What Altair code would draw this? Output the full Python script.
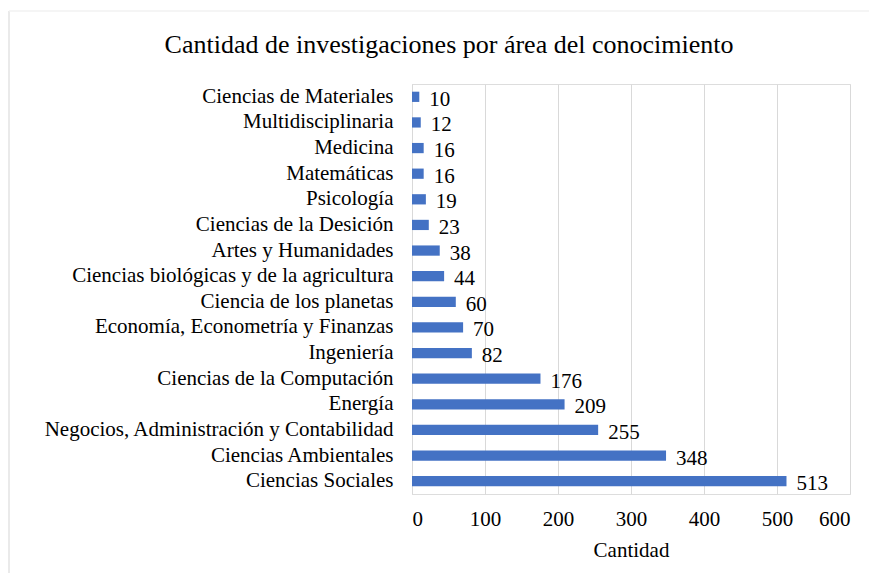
import altair as alt
import pandas as pd

areas = [
    "Ciencias de Materiales", "Multidisciplinaria", "Medicina", "Matemáticas",
    "Psicología", "Ciencias de la Desición", "Artes y Humanidades",
    "Ciencias biológicas y de la agricultura", "Ciencia de los planetas",
    "Economía, Econometría y Finanzas", "Ingeniería", "Ciencias de la Computación",
    "Energía", "Negocios, Administración y Contabilidad", "Ciencias Ambientales",
    "Ciencias Sociales",
]
cantidad = [10, 12, 16, 16, 19, 23, 38, 44, 60, 70, 82, 176, 209, 255, 348, 513]

df = pd.DataFrame({"area": areas, "cantidad": cantidad})

FONT = "Liberation Serif"
FS = 21

y = alt.Y("area:N", sort=areas, title=None,
          scale=alt.Scale(paddingInner=0.6, paddingOuter=0.3),
          axis=alt.Axis(labelFont=FONT, labelFontSize=FS, labelColor="#000000",
                        ticks=False, domainColor="#d9d9d9", labelPadding=19,
                        labelLimit=500))
x = alt.X("cantidad:Q", title="Cantidad",
          scale=alt.Scale(domain=[0, 600], nice=False),
          axis=alt.Axis(values=[0, 100, 200, 300, 400, 500, 600], labelFont=FONT,
                        labelFontSize=FS, labelColor="#000000", titleFont=FONT,
                        titleFontSize=FS, titleFontWeight="normal", titleColor="#000000",
                        domain=False, ticks=False, gridColor="#d9d9d9",
                        labelPadding=14, titlePadding=10))

bars = alt.Chart(df).mark_bar(color="#4472C4").encode(x=x, y=y)
labels = alt.Chart(df).mark_text(align="left", dx=10, dy=3, font=FONT, fontSize=FS,
                                 color="#000000").encode(
    x="cantidad:Q", y=alt.Y("area:N", sort=areas), text="cantidad:Q")

frame_df = pd.DataFrame({"k": [0]})
left_border = alt.Chart(frame_df).mark_rule(color="#e3e3e3", strokeWidth=1.5).encode(
    x=alt.value(-403), y=alt.value(-73), y2=alt.value(497))
top_border = alt.Chart(frame_df).mark_rule(color="#f2f2f2", strokeWidth=1.5).encode(
    x=alt.value(-403), x2=alt.value(465), y=alt.value(-73))

chart = (left_border + top_border + bars + labels).properties(
    width=438, height=410,
    autosize=alt.AutoSizeParams(type="none"),
    padding={"left": 404, "top": 76, "right": 19, "bottom": 79},
    title=alt.TitleParams("Cantidad de investigaciones por área del conocimiento",
                          font=FONT, fontSize=26, fontWeight="normal", color="#000000",
                          anchor="middle", frame="bounds", offset=-48, dx=6),
).configure_view(stroke=None).configure(background="white")

chart.save("out.html", embed_options={"renderer": "svg", "actions": False})
